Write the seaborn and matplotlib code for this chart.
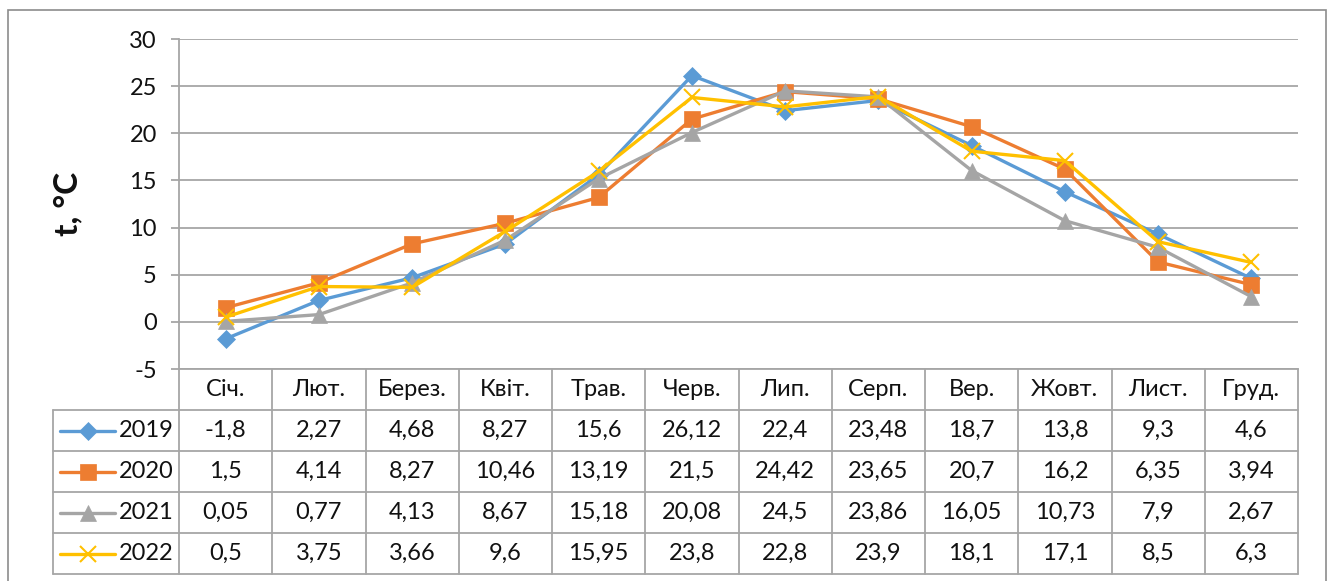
import matplotlib
matplotlib.use("Agg")
import matplotlib.pyplot as plt
import matplotlib.transforms as mtransforms
from matplotlib.patches import Rectangle
from matplotlib.lines import Line2D
import pandas as pd
import seaborn as sns

months = ["Січ.", "Лют.", "Берез.", "Квіт.", "Трав.", "Черв.",
          "Лип.", "Серп.", "Вер.", "Жовт.", "Лист.", "Груд."]
years = ["2019", "2020", "2021", "2022"]
t2019 = [-1.8, 2.27, 4.68, 8.27, 15.6, 26.12, 22.4, 23.48, 18.7, 13.8, 9.3, 4.6]
t2020 = [1.5, 4.14, 8.27, 10.46, 13.19, 21.5, 24.42, 23.65, 20.7, 16.2, 6.35, 3.94]
t2021 = [0.05, 0.77, 4.13, 8.67, 15.18, 20.08, 24.5, 23.86, 16.05, 10.73, 7.9, 2.67]
t2022 = [0.5, 3.75, 3.66, 9.6, 15.95, 23.8, 22.8, 23.9, 18.1, 17.1, 8.5, 6.3]
series = [t2019, t2020, t2021, t2022]

palette = {"2019": "#5B9BD5", "2020": "#ED7D31", "2021": "#A5A5A5", "2022": "#FFC000"}
markers = {"2019": "D", "2020": "s", "2021": "^", "2022": "x"}
msizes = {"2019": 9, "2020": 11, "2021": 11, "2022": 12}

rows = []
for y, vals in zip(years, series):
    for i, v in enumerate(vals):
        rows.append({"idx": i, "t": v, "year": y})
df = pd.DataFrame(rows)

sns.set_style("white")
plt.rcParams["font.family"] = ["Lato", "DejaVu Sans"]
plt.rcParams["axes.unicode_minus"] = False
fs = 17

W, H = 1329, 581
fig = plt.figure(figsize=(W / 100, H / 100), dpi=100)
ax = fig.add_axes([179 / W, 1 - 369 / H, (1298 - 179) / W, (369 - 39) / H])

for y in years:
    sns.lineplot(data=df[df["year"] == y], x="idx", y="t", color=palette[y],
                 marker=markers[y], markersize=msizes[y],
                 markeredgecolor=palette[y], markerfacecolor=palette[y],
                 markeredgewidth=1.5 if y == "2022" else 0.5,
                 linewidth=2.4, ax=ax, zorder=3)

grid_c = "#A6A6A6"
ax.set_xlim(-0.5, 11.5)
ax.set_ylim(-5, 30)
ax.set_yticks(range(-5, 31, 5))
ax.yaxis.grid(True, color=grid_c, linewidth=1.3)
ax.xaxis.grid(False)
ax.set_xticks([])
ax.set_xlabel("")
ax.tick_params(axis="y", length=6, width=1.3, color=grid_c, labelsize=fs,
               labelcolor="#111111", pad=10, left=True)
ax.set_ylabel("t, °C", fontsize=24, fontweight="bold", labelpad=34,
              color="#111111")
for side in ["top", "right"]:
    ax.spines[side].set_visible(False)
for side in ["left", "bottom"]:
    ax.spines[side].set_color(grid_c)
    ax.spines[side].set_linewidth(1.3)

# data table below the axes (x in data units, y in axes fraction)
tr = mtransforms.blended_transform_factory(ax.transData, ax.transAxes)
rh = 41 / (369 - 39)
x_leg = -0.5 - (179 - 53) / ((1298 - 179) / 12)
for k in range(1, 6):
    yy = -k * rh
    ax.add_line(Line2D([x_leg, 11.5], [yy, yy], transform=tr, color=grid_c,
                       lw=1.3, clip_on=False))
ax.add_line(Line2D([x_leg, x_leg], [-rh, -5 * rh], transform=tr, color=grid_c,
                   lw=1.3, clip_on=False))
for j in range(13):
    xx = j - 0.5
    ax.add_line(Line2D([xx, xx], [0, -5 * rh], transform=tr, color=grid_c,
                       lw=1.3, clip_on=False))

for j, m in enumerate(months):
    ax.text(j, -0.5 * rh, m, transform=tr, ha="center", va="center",
            fontsize=fs, color="#111111")
for r, (y, vals) in enumerate(zip(years, series)):
    yc = -(r + 1.5) * rh
    for j, v in enumerate(vals):
        ax.text(j, yc, str(v).replace(".", ","), transform=tr, ha="center",
                va="center", fontsize=fs, color="#111111")
    # legend key
    lx0 = x_leg + 0.07
    lx1 = x_leg + 0.67
    ax.add_line(Line2D([lx0, lx1], [yc, yc], transform=tr, color=palette[y],
                       lw=2.4, clip_on=False))
    ax.add_line(Line2D([(lx0 + lx1) / 2], [yc], transform=tr, color=palette[y],
                       marker=markers[y], markersize=msizes[y],
                       markeredgewidth=1.5 if y == "2022" else 0.5,
                       clip_on=False))
    ax.text(-0.56, yc, y, transform=tr, ha="right", va="center",
            fontsize=fs, color="#111111")

# outer chart border
fig.patches.append(Rectangle((8 / W, -0.05), (1326 - 8) / W, 1 - 10 / H + 0.05,
                             transform=fig.transFigure, fill=False,
                             edgecolor="#8C8C8C", linewidth=1.2))

fig.savefig("out.png", dpi=100)
